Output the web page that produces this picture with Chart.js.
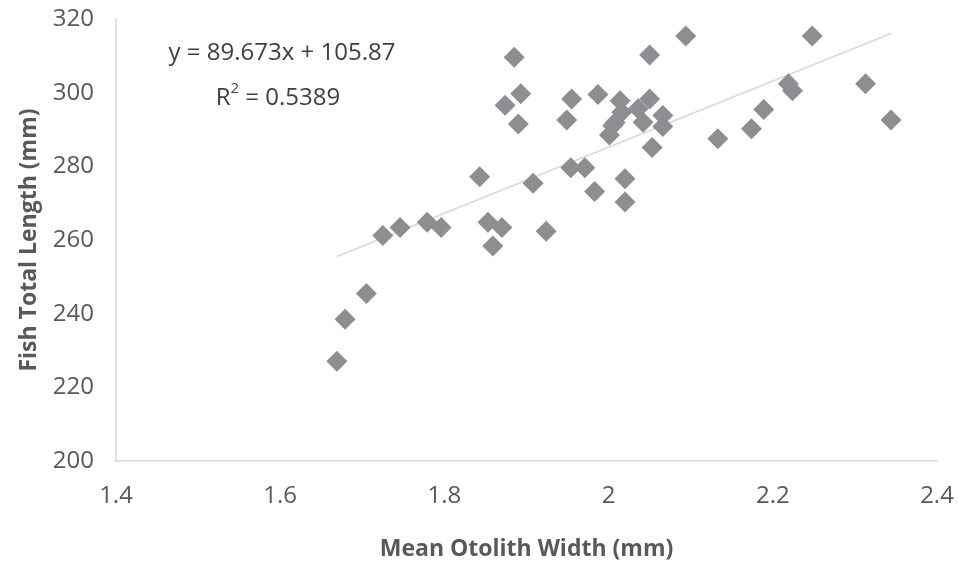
<!DOCTYPE html>
<html>
<head>
<meta charset="utf-8">
<script src="https://cdn.jsdelivr.net/npm/chart.js@4/dist/chart.umd.min.js"></script>
<style>
  html, body { margin: 0; padding: 0; background: #ffffff; }
  #wrap { width: 958px; height: 566px; }
</style>
</head>
<body>
<div id="wrap"><canvas id="chart" width="958" height="566"></canvas></div>
<script>
// Mean otolith width (mm) per fish
const widths = [
  1.669, 1.679, 1.705, 1.725, 1.746, 1.779, 1.796, 1.843, 1.853, 1.859,
  1.870, 1.885, 1.874, 1.893, 1.890, 1.908, 1.924, 1.949, 1.955, 1.954,
  1.971, 1.983, 1.987, 2.005, 2.001, 2.008, 2.014, 2.016, 2.036, 2.042,
  2.050, 2.066, 2.066, 2.053, 2.020, 2.020, 2.050, 2.094, 2.133, 2.174,
  2.189, 2.219, 2.224, 2.248, 2.313, 2.344
];
// Fish total length (mm), same order
const lengths = [
  227.1, 238.5, 245.5, 261.2, 263.4, 264.8, 263.4, 277.2, 264.8, 258.4,
  263.4, 309.6, 296.6, 299.7, 291.5, 275.4, 262.4, 292.6, 298.3, 279.6,
  279.6, 273.2, 299.5, 291.0, 288.5, 291.9, 297.8, 294.7, 295.6, 292.0,
  298.3, 293.8, 290.8, 285.1, 276.6, 270.3, 310.2, 315.4, 287.5, 290.2,
  295.4, 302.4, 300.5, 315.4, 302.4, 292.6
];
// Linear fit
const slope = 89.673;
const intercept = 105.87;
const r2 = 0.5389;

const xTicks = [1.4, 1.6, 1.8, 2, 2.2, 2.4];
const yTicks = [200, 220, 240, 260, 280, 300, 320];

const points = widths.map((w, i) => ({ x: w, y: lengths[i] }));
const xMin = Math.min(...widths);
const xMax = Math.max(...widths);
const fitLine = [xMin, xMax].map(x => ({ x: x, y: slope * x + intercept }));

const FONT = "'Open Sans', sans-serif";
const TEXT = '#595959';

// Equation and R² label
const fitLabel = {
  id: 'fitLabel',
  afterDraw(chart) {
    const ctx = chart.ctx;
    const cx = 282;
    ctx.save();
    ctx.fillStyle = '#404040';
    ctx.textBaseline = 'middle';
    ctx.textAlign = 'center';
    ctx.font = "24px " + FONT;
    ctx.fillText('y = ' + slope.toFixed(3) + 'x + ' + intercept.toFixed(2), cx, 53);
    // R² with raised superscript
    const a = 'R';
    const b = ' = ' + r2.toFixed(4);
    const wa = ctx.measureText(a).width;
    const wb = ctx.measureText(b).width;
    ctx.font = "15px " + FONT;
    const ws = ctx.measureText('2').width;
    const start = cx - 4 - (wa + ws + wb) / 2;
    ctx.textAlign = 'left';
    ctx.font = "24px " + FONT;
    ctx.fillText(a, start, 98);
    ctx.font = "15px " + FONT;
    ctx.fillText('2', start + wa, 89);
    ctx.font = "24px " + FONT;
    ctx.fillText(b, start + wa + ws, 98);
    ctx.restore();
  }
};

new Chart(document.getElementById('chart'), {
  type: 'scatter',
  data: {
    datasets: [
      {
        label: 'Fish',
        data: points,
        pointStyle: 'rectRot',
        pointRadius: 10.5,
        pointHoverRadius: 10.5,
        backgroundColor: '#8d8e91',
        borderColor: '#8d8e91',
        borderWidth: 0
      },
      {
        type: 'line',
        label: 'Linear fit',
        data: fitLine,
        borderColor: '#d9d9d9',
        borderWidth: 1.5,
        pointRadius: 0,
        fill: false,
        order: 2
      }
    ]
  },
  options: {
    responsive: false,
    animation: false,
    devicePixelRatio: 1,
    layout: { padding: { top: 19, right: 21, left: 0, bottom: 0 } },
    plugins: {
      legend: { display: false },
      tooltip: { enabled: false }
    },
    scales: {
      x: {
        type: 'linear',
        min: 1.4,
        max: 2.4,
        afterBuildTicks: s => { s.ticks = xTicks.map(v => ({ value: v })); },
        afterFit: s => { s.height = 105; s.paddingLeft = 0; s.paddingRight = 0; },
        grid: { display: false, drawTicks: false },
        border: { display: true, color: '#d9d9d9', width: 1.5 },
        ticks: {
          color: TEXT,
          font: { family: FONT, size: 24 },
          padding: 21,
          maxRotation: 0,
          callback: v => String(Math.round(v * 10) / 10)
        },
        title: {
          display: true,
          text: 'Mean Otolith Width (mm)',
          color: TEXT,
          font: { family: FONT, size: 23, weight: 'bold' },
          padding: { top: 0, bottom: 3 }
        }
      },
      y: {
        type: 'linear',
        min: 200,
        max: 320,
        afterBuildTicks: s => { s.ticks = yTicks.map(v => ({ value: v })); },
        afterFit: s => { s.width = 116; s.paddingTop = 0; s.paddingBottom = 0; },
        grid: { display: false, drawTicks: false },
        border: { display: true, color: '#d9d9d9', width: 1.5 },
        ticks: { color: TEXT, font: { family: FONT, size: 24 }, padding: 22 },
        title: {
          display: true,
          text: 'Fish Total Length (mm)',
          color: TEXT,
          font: { family: FONT, size: 23, weight: 'bold' },
          padding: { top: 16, bottom: 0 }
        }
      }
    }
  },
  plugins: [fitLabel]
});
</script>
</body>
</html>
